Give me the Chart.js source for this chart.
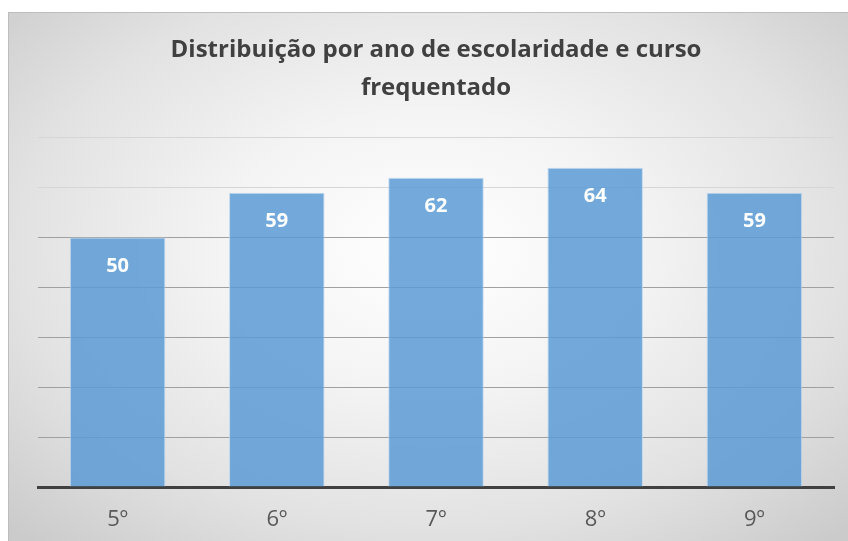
<!DOCTYPE html>
<html>
<head>
<meta charset="utf-8">
<script src="https://cdn.jsdelivr.net/npm/chart.js@4.4.1/dist/chart.umd.min.js"></script>
<style>
  html, body { margin: 0; padding: 0; background: #ffffff; width: 848px; height: 541px; overflow: hidden; }
  #frame {
    position: absolute; left: 8px; top: 12px; width: 840px; height: 529px;
    box-sizing: border-box;
    border-top: 1px solid #bdbdbd; border-left: 1px solid #bdbdbd;
    background: radial-gradient(ellipse 70% 75% at 50% 45%, #ffffff 0%, #f4f4f4 35%, #e2e2e2 70%, #cbcbcb 100%);
  }
  #c { position: absolute; left: 0; top: 0; }
</style>
</head>
<body>
<div id="frame"><canvas id="c" width="839" height="528"></canvas></div>
<script>
const categories = ['5º', '6º', '7º', '8º', '9º'];
const values = [50, 59, 62, 64, 59];
const titleLines = ['Distribuição por ano de escolaridade e curso', 'frequentado'];

const barLabels = {
  id: 'barLabels',
  afterDatasetsDraw(chart) {
    const ctx = chart.ctx;
    const meta = chart.getDatasetMeta(0);
    ctx.save();
    ctx.font = 'bold 20px "Open Sans", sans-serif';
    ctx.fillStyle = '#ffffff';
    ctx.textAlign = 'center';
    ctx.textBaseline = 'middle';
    meta.data.forEach((bar, i) => {
      ctx.fillText(String(values[i]), bar.x, bar.y + 29);
    });
    ctx.restore();
  }
};

new Chart(document.getElementById('c'), {
  type: 'bar',
  data: {
    labels: categories,
    datasets: [{
      data: values,
      backgroundColor: 'rgba(91,155,213,0.85)',
      borderColor: 'rgba(189,215,238,0.9)',
      borderWidth: 1,
      barPercentage: 0.6,
      categoryPercentage: 1.0
    }]
  },
  options: {
    responsive: false,
    animation: false,
    layout: { padding: { left: 29, right: 14, top: 0, bottom: 0 } },
    plugins: {
      legend: { display: false },
      tooltip: { enabled: false },
      title: {
        display: true,
        text: titleLines,
        color: '#404040',
        font: { family: '"Open Sans", sans-serif', size: 24, weight: 'bold', lineHeight: 1.58 },
        padding: { top: 18, bottom: 31 }
      }
    },
    scales: {
      x: {
        grid: { display: false, drawTicks: false },
        border: { display: true, color: '#404040', width: 3 },
        ticks: { color: '#595959', font: { family: '"Open Sans", sans-serif', size: 22 }, padding: 20 },
        afterFit: (s) => { s.height = 54; }
      },
      y: {
        min: 0, max: 70,
        ticks: { display: false, stepSize: 10 },
        border: { display: false },
        grid: {
          drawTicks: false,
          color: (c) => {
            const v = c.tick ? c.tick.value : 0;
            if (v === 0) return 'rgba(0,0,0,0)';
            if (v >= 60) return '#d6d6d6';
            return '#a0a0a0';
          },
          lineWidth: 1
        }
      }
    }
  },
  plugins: [barLabels]
});
</script>
</body>
</html>
